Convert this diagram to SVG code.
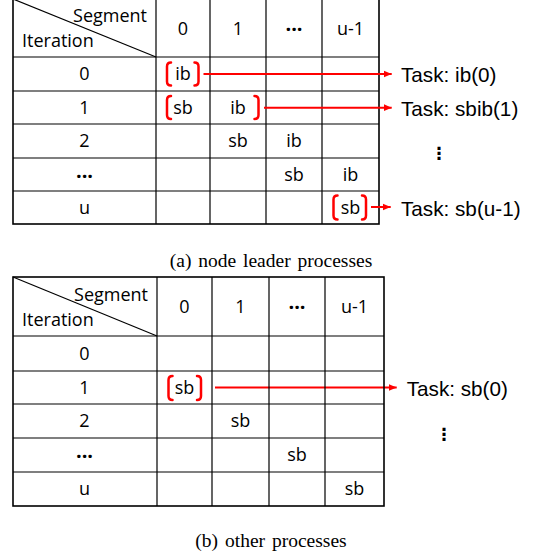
<svg xmlns="http://www.w3.org/2000/svg" width="542" height="558" viewBox="0 0 542 558">
<style>
.g{stroke:#000;stroke-width:1.2;fill:none}
.o{stroke:#000;stroke-width:1.6;fill:none}
.t{font-family:"Open Sans","Noto Sans",sans-serif;font-size:18px;fill:#000}
.c{text-anchor:middle}
.d{font-family:"Open Sans","Noto Sans",sans-serif;font-size:20px;font-weight:bold;fill:#000;text-anchor:middle}
.task{font-family:"Liberation Sans",Arial,sans-serif;font-size:20.7px;fill:#000}
.cap{font-family:"Liberation Serif","Times New Roman",serif;font-size:19.5px;fill:#000;text-anchor:middle;word-spacing:2px}
.br{stroke:#f00;stroke-width:2.5;fill:none;stroke-linecap:round}
.ar{stroke:#f00;stroke-width:2;fill:none}
.vd{font-family:"DejaVu Sans",sans-serif;font-size:17px;font-weight:bold;fill:#000;text-anchor:middle}
</style>
<defs>
<marker id="ah" markerUnits="userSpaceOnUse" markerWidth="9" markerHeight="8" refX="8" refY="4" orient="auto">
<path d="M0,0.5 L8,4 L0,7.5 z" fill="#f00"/>
</marker>
</defs>

<g id="tableA">
<rect class="o" x="13" y="-1" width="366" height="225"/>
<path class="g" d="M156,-1V224M210,-1V224M266,-1V224M322,-1V224M13,57H379M13,91H379M13,124H379M13,158H379M13,191H379"/>
<path class="g" d="M13,-1L156,57"/>
<text class="t" x="147" y="22" text-anchor="end">Segment</text>
<text class="t" x="22" y="47">Iteration</text>
<text class="t c" x="183" y="35">0</text>
<text class="t c" x="238" y="35">1</text>
<text class="d" x="294" y="36">···</text>
<text class="t c" x="350.5" y="35">u-1</text>
<text class="t c" x="84.5" y="80.3">0</text>
<text class="t c" x="84.5" y="113.8">1</text>
<text class="t c" x="84.5" y="147.3">2</text>
<text class="d" x="84.5" y="182.5">···</text>
<text class="t c" x="84.5" y="213.8">u</text>
<text class="t c" x="183" y="80.3">ib</text>
<text class="t c" x="183" y="113.8">sb</text>
<text class="t c" x="238" y="113.8">ib</text>
<text class="t c" x="238" y="147.3">sb</text>
<text class="t c" x="294" y="147.3">ib</text>
<text class="t c" x="294" y="180.8">sb</text>
<text class="t c" x="350.5" y="180.8">ib</text>
<text class="t c" x="350.5" y="213.8">sb</text>
</g>

<g id="bracketsA">
<path class="br" d="M171,62.5Q167,62.5 167,66.5V81.5Q167,85.5 171,85.5"/>
<path class="br" d="M194.5,62.5Q198.5,62.5 198.5,66.5V81.5Q198.5,85.5 194.5,85.5"/>
<path class="br" d="M171,96Q167,96 167,100V115Q167,119 171,119"/>
<path class="br" d="M254.5,96Q258.5,96 258.5,100V115Q258.5,119 254.5,119"/>
<path class="br" d="M337.5,195.5Q333.5,195.5 333.5,199.5V215.5Q333.5,219.5 337.5,219.5"/>
<path class="br" d="M362,195.5Q366,195.5 366,199.5V215.5Q366,219.5 362,219.5"/>
</g>

<g id="connectors">
<line class="ar" x1="203.5" y1="74" x2="391.7" y2="74" marker-end="url(#ah)"/>
<line class="ar" x1="264" y1="107.7" x2="391.7" y2="107.7" marker-end="url(#ah)"/>
<line class="ar" x1="371" y1="207" x2="390.7" y2="207" marker-end="url(#ah)"/>
<line class="ar" x1="215" y1="387.5" x2="396.7" y2="387.5" marker-end="url(#ah)"/>
</g>

<g id="tasksA">
<text class="task" x="401" y="82">Task: ib(0)</text>
<text class="task" x="401" y="116">Task: sbib(1)</text>
<text class="vd" x="439" y="159">⋮</text>
<text class="task" x="401" y="215.5">Task: sb(u-1)</text>
</g>

<text class="cap" x="271" y="267">(a) node leader processes</text>

<g id="tableB">
<rect class="o" x="13" y="277" width="371" height="229"/>
<path class="g" d="M157,277V506M212,277V506M269,277V506M325,277V506M13,336H384M13,371H384M13,404H384M13,438H384M13,472H384"/>
<path class="g" d="M13,277L157,336"/>
<text class="t" x="148" y="301" text-anchor="end">Segment</text>
<text class="t" x="22" y="326">Iteration</text>
<text class="t c" x="184.5" y="313">0</text>
<text class="t c" x="240.5" y="313">1</text>
<text class="d" x="297" y="314">···</text>
<text class="t c" x="354.5" y="313">u-1</text>
<text class="t c" x="84.5" y="359.8">0</text>
<text class="t c" x="84.5" y="393.8">1</text>
<text class="t c" x="84.5" y="427.3">2</text>
<text class="d" x="84.5" y="462.5">···</text>
<text class="t c" x="84.5" y="495.3">u</text>
<text class="t c" x="184.5" y="393.8">sb</text>
<text class="t c" x="240.5" y="427.3">sb</text>
<text class="t c" x="297" y="461.3">sb</text>
<text class="t c" x="354.5" y="495.3">sb</text>
</g>

<g id="bracketsB">
<path class="br" d="M172.5,376Q168.5,376 168.5,380V396Q168.5,400 172.5,400"/>
<path class="br" d="M197,376Q201,376 201,380V396Q201,400 197,400"/>
</g>

<g id="tasksB">
<text class="task" x="406.7" y="396">Task: sb(0)</text>
<text class="vd" x="444" y="440">⋮</text>
</g>

<text class="cap" x="271" y="547">(b) other processes</text>
</svg>
